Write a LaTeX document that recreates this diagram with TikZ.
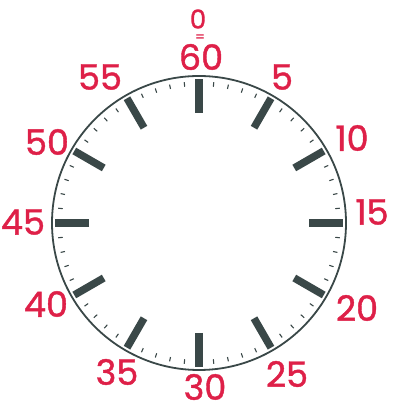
\documentclass[tikz,border=0pt]{standalone}
\usepackage{fontspec}
\setmainfont{Poppins}
\newfontfamily\labfont{Poppins}[FakeBold=1.2]
\usetikzlibrary{calc}
\definecolor{labelred}{RGB}{222,32,72}
\definecolor{dialgray}{RGB}{58,72,72}
\begin{document}
\begin{tikzpicture}[x=1pt,y=1pt,
  lab/.style={text=labelred,font=\labfont\fontsize{35}{35}\selectfont,inner sep=0pt},
  smalllab/.style={text=labelred,font=\labfont\fontsize{26}{26}\selectfont,inner sep=0pt},
  eqlab/.style={text=labelred,font=\labfont\fontsize{14}{14}\selectfont,inner sep=0pt},
  hourbar/.style={draw=dialgray,line width=7.5pt},
  minutetick/.style={draw=dialgray,line width=1.1pt},
  rim/.style={draw=dialgray,line width=1.8pt}]
\useasboundingbox (0,0) rectangle (394,403);
\coordinate (c) at (199,180);
\draw[rim] (c) circle (147);
\foreach \i in {0,...,59}{
  \pgfmathsetmacro{\a}{90-6*\i}
  \draw[minutetick] ($(c)+(\a:137)$) -- ($(c)+(\a:141.5)$);
}
\foreach \i in {0,...,11}{
  \pgfmathsetmacro{\a}{90-30*\i}
  \draw[hourbar] ($(c)+(\a:110)$) -- ($(c)+(\a:144)$);
}
\node[smalllab] (l0) at (198,384) {0};
\node[eqlab] (leq) at (200,365) {=};
\node[lab] (l60) at (201,346) {60};
\node[lab] (l55) at (100,326) {55};
\node[lab] (l50) at (47,261) {50};
\node[lab] (l45) at (23,181) {45};
\node[lab] (l40) at (46,99) {40};
\node[lab] (l5) at (282,326) {5};
\node[lab] (l10) at (352,265) {10};
\node[lab] (l15) at (372,191) {15};
\node[lab] (l20) at (357,95) {20};
\node[lab] (l35) at (117,31) {35};
\node[lab] (l30) at (205,16) {30};
\node[lab] (l25) at (287,29) {25};
\end{tikzpicture}
\end{document}
